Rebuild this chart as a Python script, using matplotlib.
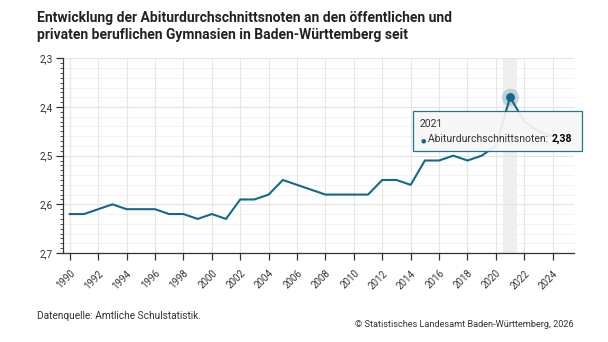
import matplotlib
matplotlib.use("Agg")
import matplotlib.pyplot as plt
import numpy as np
from matplotlib import font_manager
from matplotlib.ticker import FixedLocator, MultipleLocator, FuncFormatter

# ── Data ──────────────────────────────────────────────────────────────────────
years = list(range(1990, 2025))
noten = [2.62, 2.62, 2.61, 2.60, 2.61, 2.61, 2.61, 2.62, 2.62, 2.63,
         2.62, 2.63, 2.59, 2.59, 2.58, 2.55, 2.56, 2.57, 2.58, 2.58,
         2.58, 2.58, 2.55, 2.55, 2.56, 2.51, 2.51, 2.50, 2.51, 2.50,
         2.48, 2.38, 2.43, 2.45, 2.46]
year_ticks = list(range(1990, 2025, 2))
y_ticks = [2.3, 2.4, 2.5, 2.6, 2.7]
hover_year = 2021
series_name = "Abiturdurchschnittsnoten"

title = ("Entwicklung der Abiturdurchschnittsnoten an den öffentlichen und\n"
         "privaten beruflichen Gymnasien in Baden-Württemberg seit")
source = "Datenquelle: Amtliche Schulstatistik."
credit = "© Statistisches Landesamt Baden-Württemberg, 2026"

# ── Style ─────────────────────────────────────────────────────────────────────
names = {f.name for f in font_manager.fontManager.ttflist}
narrow = "Liberation Sans Narrow" if "Liberation Sans Narrow" in names else "Roboto"
plt.rcParams["font.family"] = ["Roboto", "DejaVu Sans"]

LINE = "#13688b"
TXT = "#333333"
W, H = 608, 342

fig = plt.figure(figsize=(W / 100, H / 100), dpi=100)
ax = fig.add_axes([62.7 / W, 1 - 253 / H, (574 - 62.7) / W, (253 - 58.3) / H])

# highlight band for the hovered category
ax.axvspan(hover_year - 0.47, hover_year + 0.47, color="#ededed", alpha=0.85, zorder=0, lw=0)

ax.plot(years, noten, color=LINE, lw=1.5, zorder=3, solid_joinstyle="round")

i = years.index(hover_year)
ax.scatter([years[i]], [noten[i]], s=160, color=LINE, alpha=0.22, zorder=4, lw=0)
ax.scatter([years[i]], [noten[i]], s=40, color=LINE, zorder=5, lw=0)

ax.set_xlim(1989.5, 2025.5)
ax.set_ylim(2.7, 2.3)

ax.xaxis.set_major_locator(FixedLocator(year_ticks))
ax.yaxis.set_major_locator(FixedLocator(y_ticks))
ax.yaxis.set_minor_locator(MultipleLocator(0.01))
ax.yaxis.set_major_formatter(FuncFormatter(lambda v, p: f"{v:.1f}".replace(".", ",")))

for lbl in ax.get_xticklabels():
    lbl.set_rotation(45)
    lbl.set_ha("right")
    lbl.set_rotation_mode("anchor")
ax.tick_params(axis="x", length=5, width=0.9, color=TXT, labelsize=7, labelcolor=TXT, pad=6)
ax.tick_params(axis="y", which="major", length=5, width=0.9, color=TXT, labelsize=7.2,
               labelcolor=TXT, pad=2)
ax.tick_params(axis="y", which="minor", length=2.5, width=0.6, color=TXT)

# grid: vertical at year ticks, horizontal every 0.02 (stronger at 0.1)
ax.grid(axis="x", color="#e6e6e6", lw=0.8, zorder=1)
for v in np.arange(2.3, 2.7001, 0.02):
    major = abs(round(v * 10) - v * 10) < 1e-6
    ax.axhline(v, color="#e3e3e3" if major else "#f0f0f0", lw=0.8 if major else 0.6, zorder=1)

for s in ("top", "right"):
    ax.spines[s].set_visible(False)
ax.spines["left"].set_color(TXT)
ax.spines["bottom"].set_color(TXT)
ax.spines["left"].set_linewidth(0.9)
ax.spines["bottom"].set_linewidth(0.9)

# tooltip
tip_x, tip_y = 413 / W, 1 - 151.5 / H
tip = plt.Rectangle((tip_x, tip_y), (581.5 - 413) / W, 40.5 / H, transform=fig.transFigure,
                    facecolor="#f7f7f7", edgecolor=LINE, lw=0.9, alpha=0.92, zorder=10)
fig.patches.append(tip)
fig.text(420 / W, 1 - 127 / H, str(hover_year), fontsize=7.5, color=TXT, zorder=11)
fig.text(420.5 / W, 1 - 142 / H, "●", fontsize=4.5, color=LINE, va="baseline", zorder=11)
t1 = fig.text(428.5 / W, 1 - 142 / H, f"{series_name}: ", fontsize=7.5, color=TXT, zorder=11)
fig.canvas.draw()
bb = t1.get_window_extent()
fig.text(bb.x1 / W, 1 - 142 / H, f"{noten[i]:.2f}".replace(".", ","), fontsize=7.5,
         color="black", fontweight="bold", zorder=11)

# title and footer
fig.text(37 / W, 1 - 11 / H, title, fontsize=10, fontweight="bold", color="#222222",
         va="top", family=[narrow, "DejaVu Sans"], linespacing=1.3)
fig.text(37 / W, 1 - 319 / H, source, fontsize=7.3, color=TXT, family=[narrow, "DejaVu Sans"])
fig.text(574 / W, 1 - 327 / H, credit, fontsize=6.6, color=TXT, ha="right",
         family=[narrow, "DejaVu Sans"])

fig.savefig("out.png", dpi=100)
